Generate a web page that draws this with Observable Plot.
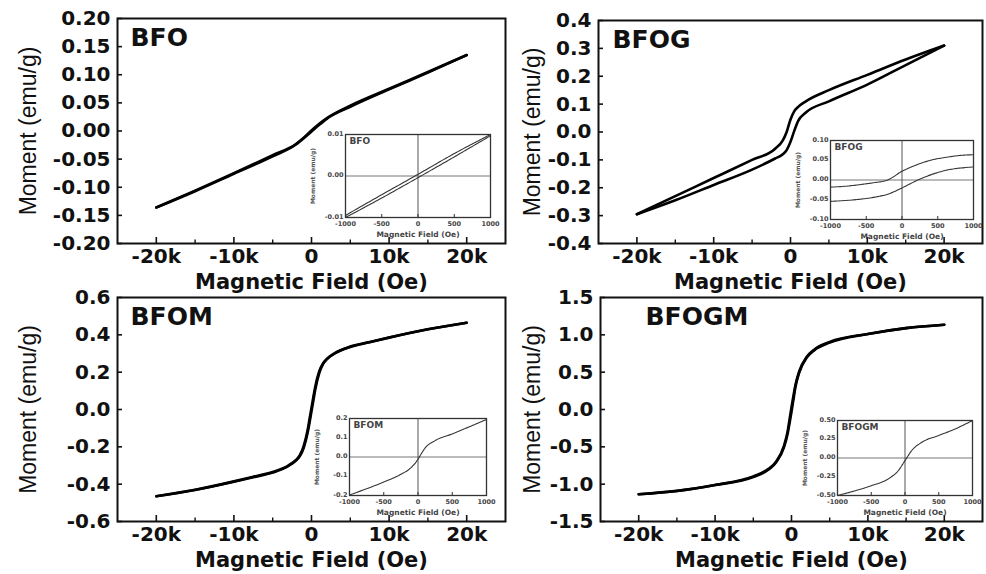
<!DOCTYPE html>
<html><head><meta charset="utf-8">
<script src="https://cdn.jsdelivr.net/npm/d3@7"></script>
<script src="https://cdn.jsdelivr.net/npm/@observablehq/plot@0.6"></script>
<style>
body{margin:0;background:#fff}
#chart{position:relative;width:986px;height:574px;overflow:hidden;background:#fff}
#chart svg{position:absolute;overflow:visible}
</style>
</head><body><div id="chart"></div>
<script>
// ---------- data ----------
const mainXTicks = [-20000, -10000, 0, 10000, 20000];
const mainXMinor = [-15000, -5000, 5000, 15000];
const insetXTicks = [-1000, -500, 0, 500, 1000];

// BFO main loop
const bfoField = [-20000, -15000, -10000, -5000, -2000, -1000, 0, 1000, 2000, 5000, 10000, 15000, 20000];
const bfoDesc  = [-0.136, -0.106, -0.075, -0.043, -0.023, -0.012, 0.001, 0.013, 0.023, 0.045, 0.075, 0.105, 0.135];
const bfoAsc   = [-0.136, -0.107, -0.076, -0.045, -0.024, -0.013, -0.001, 0.011, 0.022, 0.043, 0.074, 0.104, 0.135];
const bfoYTicks = [-0.20, -0.15, -0.10, -0.05, 0.00, 0.05, 0.10, 0.15, 0.20];
// BFO inset
const bfoInField = [-1000, -500, 0, 500, 1000];
const bfoInDesc  = [-0.0095, -0.0045, 0.0004, 0.0054, 0.0100];
const bfoInAsc   = [-0.0100, -0.0053, -0.0004, 0.0046, 0.0097];
const bfoInYTicks = [-0.01, 0.00, 0.01];

// BFOG main loop
const bfogField = [-20000, -15000, -10000, -5000, -2000, -1000, -500, 0, 500, 1000, 2000, 5000, 10000, 15000, 20000];
const bfogDesc  = [-0.295, -0.230, -0.165, -0.100, -0.060, -0.030, 0.000, 0.045, 0.075, 0.090, 0.110, 0.150, 0.205, 0.260, 0.310];
const bfogAsc   = [-0.295, -0.245, -0.190, -0.135, -0.095, -0.080, -0.065, -0.035, 0.005, 0.040, 0.070, 0.110, 0.170, 0.240, 0.310];
const bfogYTicks = [-0.4, -0.3, -0.2, -0.1, 0.0, 0.1, 0.2, 0.3, 0.4];
// BFOG inset
const bfogInField = [-1000, -800, -600, -400, -200, 0, 200, 400, 600, 800, 1000];
const bfogInUpper = [-0.018, -0.016, -0.012, -0.007, 0.000, 0.022, 0.038, 0.050, 0.057, 0.062, 0.064];
const bfogInLower = [-0.054, -0.052, -0.049, -0.044, -0.036, -0.020, -0.002, 0.013, 0.024, 0.030, 0.033];
const bfogInYTicks = [-0.10, -0.05, 0.00, 0.05, 0.10];

// BFOM main loop
const bfomField = [-20000, -15000, -10000, -7500, -5000, -3000, -2000, -1500, -1000, -500, -250, 0, 250, 500, 1000, 1500, 2000, 3000, 5000, 7500, 10000, 15000, 20000];
const bfomDesc  = [-0.465, -0.430, -0.385, -0.360, -0.335, -0.300, -0.270, -0.245, -0.195, -0.110, -0.050, 0.010, 0.070, 0.125, 0.205, 0.248, 0.272, 0.302, 0.337, 0.362, 0.386, 0.430, 0.465];
const bfomAsc   = [-0.465, -0.431, -0.387, -0.363, -0.338, -0.303, -0.274, -0.250, -0.205, -0.125, -0.070, -0.010, 0.050, 0.110, 0.195, 0.244, 0.270, 0.300, 0.335, 0.360, 0.385, 0.430, 0.465];
const bfomYTicks = [-0.6, -0.4, -0.2, 0.0, 0.2, 0.4, 0.6];
// BFOM inset
const bfomInField = [-1000, -750, -500, -250, -100, 0, 50, 100, 250, 500, 750, 1000];
const bfomInM     = [-0.197, -0.165, -0.130, -0.090, -0.055, -0.012, 0.018, 0.045, 0.085, 0.120, 0.157, 0.195];
const bfomInYTicks = [-0.2, -0.1, 0.0, 0.1, 0.2];

// BFOGM main loop
const bfogmField = [-20000, -15000, -10000, -5000, -3000, -2000, -1000, -500, -250, 0, 250, 500, 1000, 2000, 3000, 5000, 10000, 15000, 20000];
const bfogmDesc  = [-1.135, -1.090, -1.010, -0.895, -0.795, -0.695, -0.490, -0.290, -0.130, 0.030, 0.180, 0.320, 0.510, 0.705, 0.805, 0.905, 1.012, 1.090, 1.135];
const bfogmAsc   = [-1.135, -1.092, -1.012, -0.905, -0.805, -0.705, -0.510, -0.320, -0.180, -0.030, 0.130, 0.290, 0.490, 0.695, 0.795, 0.895, 1.010, 1.090, 1.135];
const bfogmYTicks = [-1.5, -1.0, -0.5, 0.0, 0.5, 1.0, 1.5];
// BFOGM inset
const bfogmInField = [-1000, -750, -500, -250, -100, 0, 100, 250, 500, 750, 1000];
const bfogmInM     = [-0.500, -0.440, -0.370, -0.280, -0.170, -0.035, 0.100, 0.210, 0.300, 0.390, 0.500];
const bfogmInYTicks = [-0.50, -0.25, 0.00, 0.25, 0.50];

// ---------- drawing ----------
const chart = document.getElementById("chart");
const BOLD = "DejaVu Sans";
const LABEL_FONT = "Liberation Sans Narrow, Liberation Sans, Arial, sans-serif";

function toRows(field, series) {
  const rows = [];
  series.forEach(([name, vals]) => field.forEach((x, i) => rows.push({x, m: vals[i], branch: name})));
  return rows;
}

function mainPanel(o) {
  const [y0, y1] = o.yDomain;
  const fw = o.width - o.ml - o.mr, fh = o.height - o.mt - o.mb;
  const tickLenY = (y1 - y0) * 6 / fh, minorLenY = (y1 - y0) * 3.5 / fh;
  const tickLenX = 50000 * 5 / fw;
  const svg = Plot.plot({
    width: o.width, height: o.height,
    marginLeft: o.ml, marginRight: o.mr, marginTop: o.mt, marginBottom: o.mb,
    x: {domain: [-25000, 25000], label: null},
    y: {domain: o.yDomain, label: null},
    style: {fontFamily: BOLD, fontWeight: "bold", fontSize: "20px", color: "#111", background: "transparent", overflow: "visible"},
    marks: [
      Plot.line(o.rows, {x: "x", y: "m", z: "branch", stroke: "#000", strokeWidth: 2.6, curve: "monotone-x"}),
      Plot.ruleX(mainXTicks, {x: d => d, y1: y0, y2: y0 + tickLenY, stroke: "#111", strokeWidth: 1.6}),
      Plot.ruleX(mainXMinor, {x: d => d, y1: y0, y2: y0 + minorLenY, stroke: "#111", strokeWidth: 1.4}),
      Plot.ruleY(o.yTicks, {y: d => d, x1: -25000, x2: -25000 + tickLenX, stroke: "#111", strokeWidth: 1.6}),
      Plot.frame({stroke: "#111", strokeWidth: 2}),
      Plot.axisX(mainXTicks, {label: null, tickSize: 0, tickPadding: 5, tickFormat: d => d === 0 ? "0" : (d / 1000) + "k"}),
      Plot.axisY(o.yTicks, {label: null, tickSize: 0, tickPadding: 7, tickFormat: d => d.toFixed(o.digits)}),
      Plot.text([o.name], {frameAnchor: "top-left", dx: o.titleDx, dy: 10, fontSize: 25, fontWeight: "bold", fill: "#111"}),
      Plot.text(["Moment (emu/g)"], {frameAnchor: "left", dx: o.labelDx, rotate: -90, textAnchor: "middle", lineAnchor: "middle", fontFamily: LABEL_FONT, fontWeight: "normal", fontSize: 23, fill: "#111"}),
      Plot.text(["Magnetic Field (Oe)"], {frameAnchor: "bottom", dy: 39, textAnchor: "middle", lineAnchor: "middle", fontSize: 21, fill: "#111"})
    ]
  });
  svg.style.left = o.left + "px";
  svg.style.top = o.top + "px";
  chart.appendChild(svg);
}

function insetPanel(o) {
  const ml = 38, mr = 12, mt = 4, mb = 24;
  const [y0, y1] = o.yDomain;
  const fh = o.fh;
  const svg = Plot.plot({
    width: o.fw + ml + mr, height: o.fh + mt + mb,
    marginLeft: ml, marginRight: mr, marginTop: mt, marginBottom: mb,
    x: {domain: [-1000, 1000], label: null},
    y: {domain: o.yDomain, label: null},
    style: {fontFamily: BOLD, fontWeight: "bold", fontSize: "6.5px", color: "#444", background: "transparent", overflow: "visible"},
    marks: [
      Plot.ruleY([0], {stroke: "#777", strokeWidth: 1}),
      Plot.ruleX([0], {stroke: "#555", strokeWidth: 1}),
      Plot.ruleX(insetXTicks, {x: d => d, y1: y0, y2: y0 + (y1 - y0) * 3 / fh, stroke: "#333"}),
      Plot.line(o.rows, {x: "x", y: "m", z: "branch", stroke: "#333", strokeWidth: 1.1, strokeDasharray: "3,0.8", curve: "monotone-x"}),
      Plot.frame({stroke: "#333", strokeWidth: 1.3}),
      Plot.axisX(insetXTicks, {label: null, tickSize: 0, tickPadding: 4, tickFormat: d => String(d)}),
      Plot.axisY(o.yTicks, {label: null, tickSize: 0, tickPadding: 2, dy: -1, tickFormat: d => d.toFixed(o.digits)}),
      Plot.text([o.name], {frameAnchor: "top-left", dx: 4, dy: 3, fontSize: 9, fontWeight: "bold", fill: "#444"}),
      Plot.text(["Moment (emu/g)"], {frameAnchor: "left", dx: -32, rotate: -90, textAnchor: "middle", lineAnchor: "middle", fontSize: 6, fill: "#555"}),
      Plot.text(["Magnetic Field (Oe)"], {frameAnchor: "bottom", dy: 17, textAnchor: "middle", lineAnchor: "middle", fontSize: 7.5, fill: "#444"})
    ]
  });
  svg.style.left = (o.fx - ml) + "px";
  svg.style.top = (o.fy - mt) + "px";
  chart.appendChild(svg);
}

// Top-left: BFO
mainPanel({name: "BFO", left: 0, top: 0, width: 510, height: 300, ml: 117, mr: 5, mt: 18, mb: 57,
  yDomain: [-0.2, 0.2], yTicks: bfoYTicks, digits: 2, titleDx: 13, labelDx: -89,
  rows: toRows(bfoField, [["desc", bfoDesc], ["asc", bfoAsc]])});
// Top-right: BFOG
mainPanel({name: "BFOG", left: 490, top: 0, width: 496, height: 300, ml: 108, mr: 4, mt: 20, mb: 57,
  yDomain: [-0.4, 0.4], yTicks: bfogYTicks, digits: 1, titleDx: 14, labelDx: -66,
  rows: toRows(bfogField, [["desc", bfogDesc], ["asc", bfogAsc]])});
// Bottom-left: BFOM
mainPanel({name: "BFOM", left: 0, top: 280, width: 510, height: 294, ml: 117, mr: 5, mt: 17, mb: 53,
  yDomain: [-0.6, 0.6], yTicks: bfomYTicks, digits: 1, titleDx: 13, labelDx: -89,
  rows: toRows(bfomField, [["desc", bfomDesc], ["asc", bfomAsc]])});
// Bottom-right: BFOGM
mainPanel({name: "BFOGM", left: 490, top: 280, width: 496, height: 294, ml: 110, mr: 4, mt: 17, mb: 53,
  yDomain: [-1.5, 1.5], yTicks: bfogmYTicks, digits: 1, titleDx: 45, labelDx: -68,
  rows: toRows(bfogmField, [["desc", bfogmDesc], ["asc", bfogmAsc]])});

// Insets
insetPanel({name: "BFO", fx: 345, fy: 134, fw: 145, fh: 83, yDomain: [-0.01, 0.01], yTicks: bfoInYTicks, digits: 2,
  rows: toRows(bfoInField, [["desc", bfoInDesc], ["asc", bfoInAsc]])});
insetPanel({name: "BFOG", fx: 830, fy: 140, fw: 143, fh: 79, yDomain: [-0.1, 0.1], yTicks: bfogInYTicks, digits: 2,
  rows: toRows(bfogInField, [["upper", bfogInUpper], ["lower", bfogInLower]])});
insetPanel({name: "BFOM", fx: 349, fy: 418, fw: 137, fh: 77, yDomain: [-0.2, 0.2], yTicks: bfomInYTicks, digits: 1,
  rows: toRows(bfomInField, [["m", bfomInM]])});
insetPanel({name: "BFOGM", fx: 837, fy: 420, fw: 135, fh: 75, yDomain: [-0.5, 0.5], yTicks: bfogmInYTicks, digits: 2,
  rows: toRows(bfogmInField, [["m", bfogmInM]])});
</script>
</body></html>
